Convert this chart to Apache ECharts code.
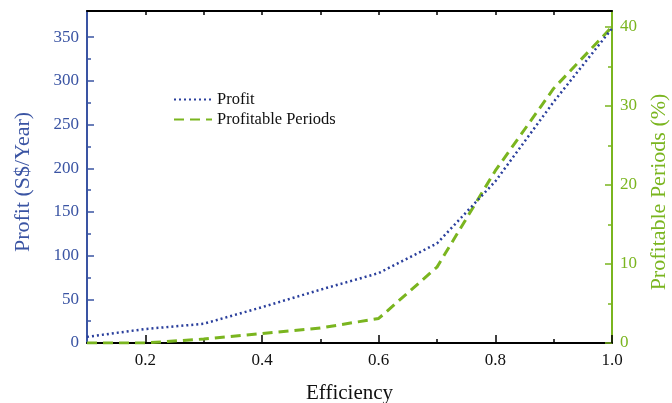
<!DOCTYPE html>
<html><head><meta charset="utf-8">
<script src="https://cdn.jsdelivr.net/npm/echarts@6/dist/echarts.min.js"></script>
<style>html,body{margin:0;padding:0;background:#fff}#c{width:672px;height:403px}</style>
</head><body><div id="c"></div>
<script>
const efficiency = [0.1, 0.2, 0.3, 0.4, 0.5, 0.6, 0.7, 0.8, 0.9, 1.0];
const profit = [7, 16, 22, 41, 61, 80, 114, 185, 276, 360];
const profitablePeriods = [0, 0, 0.5, 1.2, 1.9, 3.1, 9.6, 21.8, 32.2, 40];
const xTickLabels = [0.2, 0.4, 0.6, 0.8, 1.0];
const xMinorTicks = [0.3, 0.5, 0.7, 0.9];
const topTicks = [0.2, 0.3, 0.4, 0.5, 0.6, 0.7, 0.8, 0.9];
const leftTicks = [0, 50, 100, 150, 200, 250, 300, 350];
const leftMinor = [25, 75, 125, 175, 225, 275, 325];
const rightTicks = [0, 10, 20, 30, 40];
const rightMinor = [5, 15, 25, 35];

const BLUE = '#3a54a3', LINEBLUE = '#2a3f9c', GREEN = '#7ab51f';
const FONT = 'Liberation Serif';
const pairs = (ys) => efficiency.map((x, i) => [x, ys[i]]);

const chart = echarts.init(document.getElementById('c'));
chart.setOption({
  animation: false,
  grid: { left: 87, right: 60, top: 11, bottom: 60, outerBoundsMode: 'none', containLabel: false },
  legend: {
    orient: 'vertical', left: 168, top: 86, itemWidth: 38, itemHeight: 12, itemGap: 3,
    itemStyle: { opacity: 0 },
    textStyle: { fontFamily: FONT, fontSize: 16.5, color: '#111' },
    data: ['Profit', 'Profitable Periods']
  },
  xAxis: [
    { type: 'value', position: 'bottom', min: 0.1, max: 1.0, interval: 0.1,
      name: 'Efficiency', nameLocation: 'middle', nameGap: 40,
      nameTextStyle: { fontFamily: FONT, fontSize: 21, color: '#111' },
      axisLine: { onZero: false, lineStyle: { color: '#000', width: 2 } },
      axisTick: { inside: true, length: 8, customValues: xTickLabels, lineStyle: { color: '#000', width: 1.5 } },
      axisLabel: { customValues: xTickLabels, fontFamily: FONT, fontSize: 17, color: '#111', margin: 9,
        formatter: v => v.toFixed(1) },
      splitLine: { show: false } },
    { type: 'value', position: 'top', min: 0.1, max: 1.0, interval: 0.1,
      axisLine: { onZero: false, lineStyle: { color: '#000', width: 2 } },
      axisTick: { inside: true, length: 4, customValues: topTicks, lineStyle: { color: '#000', width: 1.5 } },
      axisLabel: { show: false }, splitLine: { show: false } },
    { type: 'value', position: 'bottom', min: 0.1, max: 1.0, interval: 0.1,
      axisLine: { onZero: false, show: false },
      axisTick: { inside: true, length: 4, customValues: xMinorTicks, lineStyle: { color: '#000', width: 1.5 } },
      axisLabel: { show: false }, splitLine: { show: false } }
  ],
  yAxis: [
    { type: 'value', position: 'left', min: 0, max: 380, interval: 50,
      name: 'Profit (S$/Year)', nameLocation: 'middle', nameGap: 53, nameRotate: 90,
      nameTextStyle: { fontFamily: FONT, fontSize: 22, color: BLUE, padding: [0, 10, 0, 0] },
      axisLine: { show: true, onZero: false, lineStyle: { color: BLUE, width: 2 } },
      axisTick: { show: true, inside: true, length: 7, customValues: leftTicks, lineStyle: { color: BLUE, width: 1.5 } },
      axisLabel: { customValues: leftTicks, fontFamily: FONT, fontSize: 17, color: BLUE, margin: 8 },
      splitLine: { show: false } },
    { type: 'value', position: 'right', min: 0, max: 42, interval: 10,
      name: 'Profitable Periods (%)', nameLocation: 'middle', nameGap: 36, nameRotate: 90,
      nameTextStyle: { fontFamily: FONT, fontSize: 22, color: GREEN, padding: [0, 30, 0, 0] },
      axisLine: { show: true, onZero: false, lineStyle: { color: GREEN, width: 2 } },
      axisTick: { show: true, inside: true, length: 7, customValues: rightTicks, lineStyle: { color: GREEN, width: 1.5 } },
      axisLabel: { customValues: rightTicks, fontFamily: FONT, fontSize: 17, color: GREEN, margin: 8 },
      splitLine: { show: false } },
    { type: 'value', position: 'left', min: 0, max: 380, interval: 50,
      axisLine: { show: false, onZero: false },
      axisTick: { show: true, inside: true, length: 4, customValues: leftMinor, lineStyle: { color: BLUE, width: 1.5 } },
      axisLabel: { show: false }, splitLine: { show: false } },
    { type: 'value', position: 'right', min: 0, max: 42, interval: 10,
      axisLine: { show: false, onZero: false },
      axisTick: { show: true, inside: true, length: 4, customValues: rightMinor, lineStyle: { color: GREEN, width: 1.5 } },
      axisLabel: { show: false }, splitLine: { show: false } }
  ],
  series: [
    { name: 'Profit', type: 'line', xAxisIndex: 0, yAxisIndex: 0, data: pairs(profit),
      symbol: 'none', color: LINEBLUE, z: 3,
      lineStyle: { color: LINEBLUE, width: 2.5, type: [2, 3] } },
    { name: 'Profitable Periods', type: 'line', xAxisIndex: 0, yAxisIndex: 1, data: pairs(profitablePeriods),
      symbol: 'none', color: GREEN, z: 2,
      lineStyle: { color: GREEN, width: 3, type: [10, 6] } }
  ]
});
</script>
</body></html>
